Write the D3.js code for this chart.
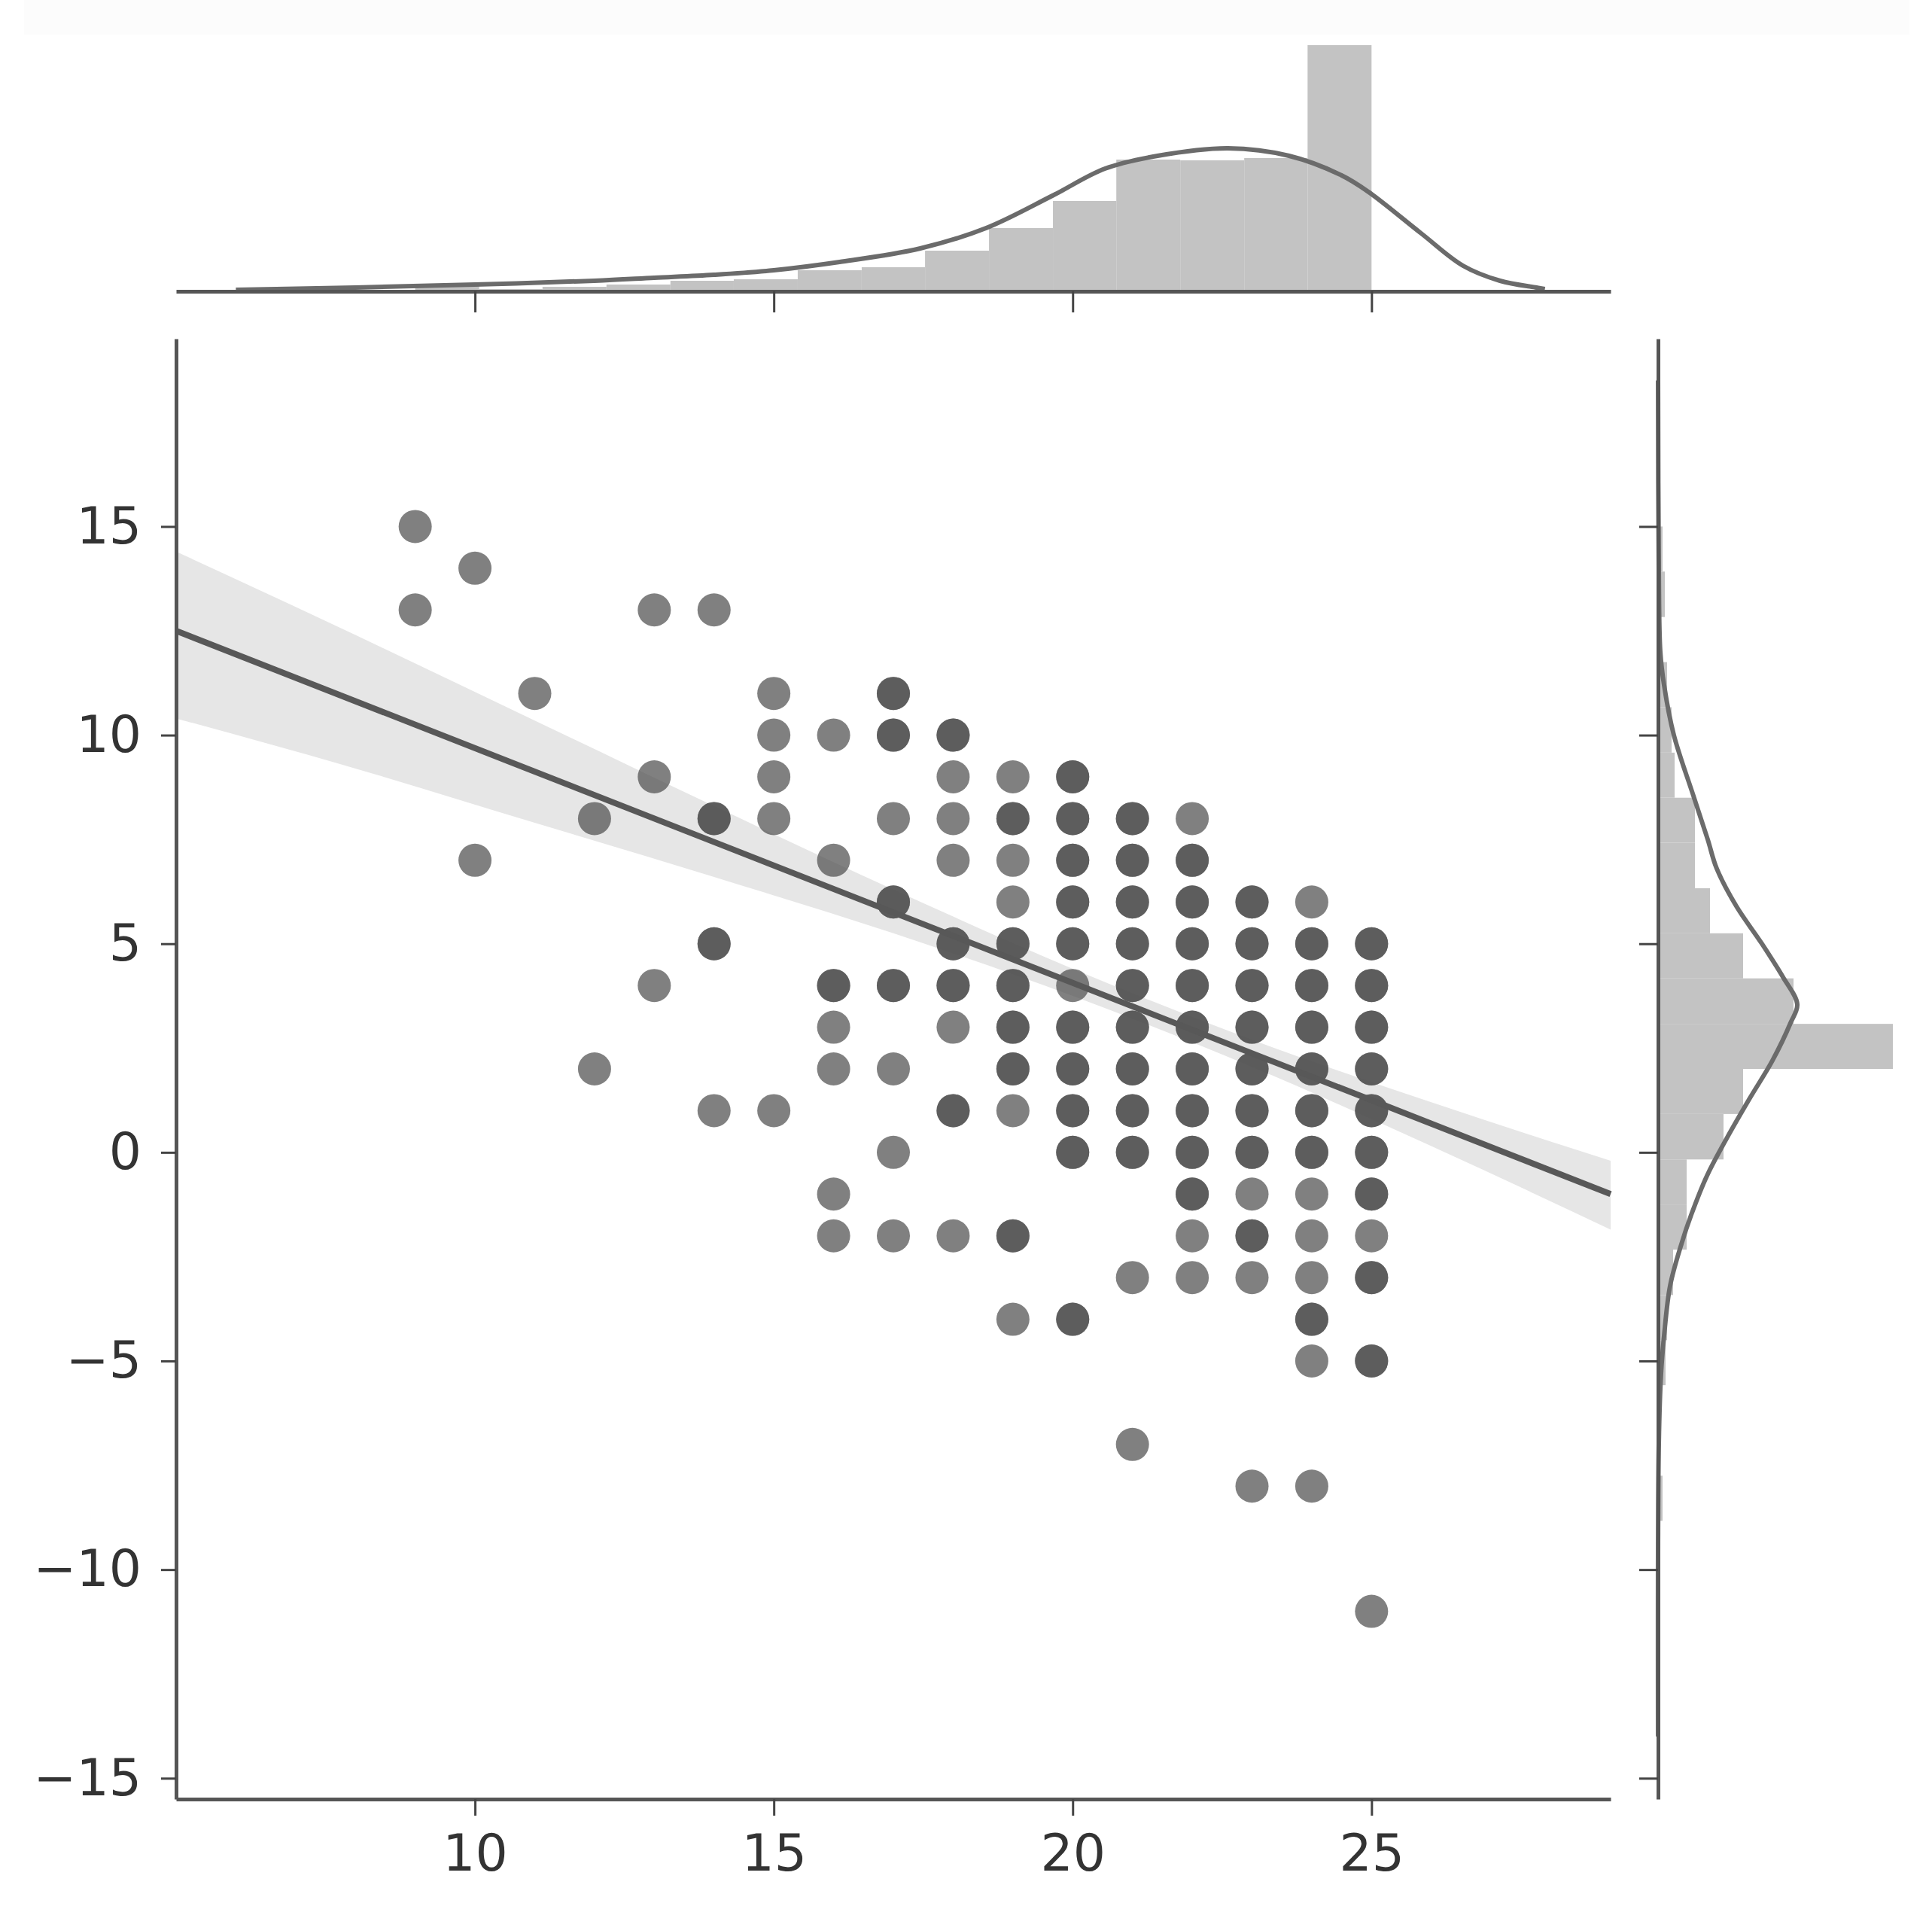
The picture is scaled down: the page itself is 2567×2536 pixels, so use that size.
<!DOCTYPE html>
<html>
<head>
<meta charset="utf-8">
<title>jointplot</title>
<script src="https://d3js.org/d3.v7.min.js"></script>
<style>
  body { margin: 0; background: #fff; }
  text { font-family: "DejaVu Sans", sans-serif; }
</style>
</head>
<body>
<script>
// scatter, one entry per x column: y values and how many points overlap there
var colX = [9, 10, 11, 12, 13, 14, 15, 16, 17, 18, 19, 20, 21, 22, 23, 24, 25];
var colY = [
    [15, 13],
    [14, 7],
    [11],
    [8, 2],
    [13, 9, 4],
    [13, 8, 5, 1],
    [11, 10, 9, 8, 1],
    [10, 7, 4, 3, 2, -1, -2],
    [11, 10, 8, 6, 4, 2, 0, -2],
    [10, 9, 8, 7, 5, 4, 3, 1, -2],
    [9, 8, 7, 6, 5, 4, 3, 2, 1, -2, -4],
    [9, 8, 7, 6, 5, 4, 3, 2, 1, 0, -4],
    [8, 7, 6, 5, 4, 3, 2, 1, 0, -3, -7],
    [8, 7, 6, 5, 4, 3, 2, 1, 0, -1, -2, -3],
    [6, 5, 4, 3, 2, 1, 0, -1, -2, -3, -8],
    [6, 5, 4, 3, 2, 1, 0, -1, -2, -3, -4, -5, -8],
    [5, 4, 3, 2, 1, 0, -1, -2, -3, -5, -11]
];
var colN = [
    [1, 1],
    [1, 1],
    [1],
    [1, 1],
    [1, 1, 1],
    [1, 2, 2, 1],
    [1, 1, 1, 1, 1],
    [1, 1, 2, 1, 1, 1, 1],
    [2, 2, 1, 2, 2, 1, 1, 1],
    [2, 1, 1, 1, 2, 2, 1, 2, 1],
    [1, 2, 1, 1, 2, 2, 2, 2, 1, 2, 1],
    [2, 2, 2, 2, 2, 1, 2, 2, 2, 2, 2],
    [2, 2, 2, 2, 2, 2, 2, 2, 2, 1, 1],
    [1, 2, 2, 2, 2, 2, 2, 2, 2, 2, 1, 1],
    [2, 2, 2, 2, 2, 2, 2, 1, 2, 1, 1],
    [1, 2, 2, 2, 2, 2, 2, 1, 1, 1, 2, 1, 1],
    [2, 2, 2, 2, 2, 2, 2, 1, 2, 2, 1]
];

// regression line and its confidence band
var fitX = [5, 29];
var fitY = [12.5, -1.0];
var bandX = [5, 8, 11, 14, 17, 20, 23, 26, 29];
var bandLo = [10.4, 9.2, 7.9, 6.6, 5.25, 3.75, 2.05, 0.15, -1.85];
var bandHi = [14.4, 12.4, 10.35, 8.3, 6.3, 4.4, 2.7, 1.2, -0.2];

// top marginal: histogram + kde of x
var xBinEdges = [9, 10.07, 11.13, 12.2, 13.27, 14.33, 15.4, 16.47, 17.53, 18.6, 19.67, 20.73, 21.8, 22.87, 23.93, 25];
var xBinDensity = [0.008, 0.003, 0.006, 0.009, 0.014, 0.016, 0.028, 0.032, 0.054, 0.084, 0.120, 0.175, 0.174, 0.177, 0.327];
var xKdeX = [6, 8, 10, 12, 13, 14, 15, 16.1, 17.45, 18.55, 19.66, 20.54, 21.42, 22.6, 23.62, 24.5, 24.95, 25.83, 26.53, 27.15, 27.76, 27.9];
var xKdeD = [0.002, 0.005, 0.009, 0.014, 0.018, 0.022, 0.028, 0.039, 0.057, 0.084, 0.127, 0.163, 0.180, 0.190, 0.180, 0.154, 0.132, 0.077, 0.034, 0.014, 0.005, 0.003];

// right marginal: histogram + kde of y
var yBinEdges = [-11, -9.92, -8.83, -7.75, -6.67, -5.58, -4.5, -3.42, -2.33, -1.25, -0.17, 0.92, 2, 3.08, 4.17, 5.25, 6.33, 7.42, 8.5, 9.58, 10.67, 11.75, 12.83, 13.92, 15];
var yBinDensity = [0.003, 0, 0.006, 0.003, 0, 0.010, 0.012, 0.020, 0.038, 0.038, 0.087, 0.113, 0.312, 0.180, 0.113, 0.069, 0.049, 0.049, 0.022, 0.018, 0.012, 0, 0.009, 0.006];
var yKdeY = [18.5, 14, 12, 11.2, 10, 8.6, 7.5, 6.8, 5.9, 5.0, 4.2, 3.55, 3.1, 2.2, 1.3, 0.36, -0.56, -1.5, -2.2, -3.2, -4.4, -5.3, -7, -14];
var yKdeD = [0, 0.001, 0.003, 0.008, 0.021, 0.046, 0.066, 0.078, 0.104, 0.138, 0.166, 0.185, 0.176, 0.152, 0.122, 0.092, 0.065, 0.044, 0.031, 0.016, 0.008, 0.004, 0.001, 0];

var mainTicksX = [10, 15, 20, 25];
var mainTicksY = [-15, -10, -5, 0, 5, 10, 15];

var width = 2567,
    height = 2536;

var svg = d3.select("body").append("svg")
    .attr("width", width)
    .attr("height", height)
    .style("background", "#fff");

svg.append("rect")
    .attr("x", 32).attr("y", 0)
    .attr("width", 2505).attr("height", 46)
    .attr("fill", "#fcfcfc");

var x = d3.scaleLinear().domain([5, 29]).range([234, 2140]);
var y = d3.scaleLinear().domain([-15.5, 19.5]).range([2390, 450]);
var topD = d3.scaleLinear().domain([0, 0.35]).range([387, 37]);
var rightD = d3.scaleLinear().domain([0, 0.33]).range([2203, 2533]);

var spineColor = "#555",
    histColor = "#c3c3c3",
    kdeColor = "#6b6b6b";

/* main joint plot */

var band = bandX.map(function (v, i) {
    return { x: v, lo: bandLo[i], hi: bandHi[i] };
});
svg.append("path")
    .datum(band)
    .attr("fill", "#e6e6e6")
    .attr("d", d3.area()
        .x(function (d) { return x(d.x); })
        .y0(function (d) { return y(d.lo); })
        .y1(function (d) { return y(d.hi); })
        .curve(d3.curveMonotoneX));

var points = [];
colX.forEach(function (cx, i) {
    colY[i].forEach(function (cy, j) {
        for (var k = 0; k < colN[i][j]; k++) points.push({ x: cx, y: cy });
    });
});

svg.append("g").selectAll("circle")
    .data(points)
    .enter().append("circle")
    .attr("cx", function (d) { return x(d.x); })
    .attr("cy", function (d) { return y(d.y); })
    .attr("r", 22)
    .attr("fill", "#4f4f4f")
    .attr("fill-opacity", 0.72);

svg.append("path")
    .datum(fitX.map(function (v, i) { return [v, fitY[i]]; }))
    .attr("fill", "none")
    .attr("stroke", "#585858")
    .attr("stroke-width", 8)
    .attr("d", d3.line()
        .x(function (d) { return x(d[0]); })
        .y(function (d) { return y(d[1]); }));

function styleAxis(g) {
    g.select(".domain")
        .attr("stroke", spineColor)
        .attr("stroke-width", 5);
    g.selectAll(".tick line")
        .attr("stroke", "#444")
        .attr("stroke-width", 3);
    g.selectAll(".tick text")
        .attr("fill", "#333")
        .style("font-size", "68px")
        .style("font-family", "'DejaVu Sans', sans-serif");
}

svg.append("g")
    .attr("transform", "translate(0,2390)")
    .call(d3.axisBottom(x).tickValues(mainTicksX).tickSize(22).tickSizeOuter(0).tickPadding(25).tickFormat(d3.format("d")))
    .call(styleAxis);

svg.append("g")
    .attr("transform", "translate(234,0)")
    .call(d3.axisLeft(y).tickValues(mainTicksY).tickSize(20).tickSizeOuter(0).tickPadding(26).tickFormat(d3.format("d")))
    .call(styleAxis);

/* top marginal */

svg.append("g").selectAll("rect")
    .data(xBinDensity)
    .enter().append("rect")
    .attr("x", function (d, i) { return x(xBinEdges[i]); })
    .attr("width", function (d, i) { return x(xBinEdges[i + 1]) - x(xBinEdges[i]); })
    .attr("y", function (d) { return topD(d); })
    .attr("height", function (d) { return topD(0) - topD(d); })
    .attr("fill", histColor);

svg.append("path")
    .datum(xKdeX.map(function (v, i) { return [v, xKdeD[i]]; }))
    .attr("fill", "none")
    .attr("stroke", kdeColor)
    .attr("stroke-width", 6)
    .attr("d", d3.line()
        .x(function (d) { return x(d[0]); })
        .y(function (d) { return topD(d[1]); })
        .curve(d3.curveCatmullRom.alpha(0.5)));

svg.append("g")
    .attr("transform", "translate(0,387)")
    .call(d3.axisBottom(x).tickValues(mainTicksX).tickSize(28).tickSizeOuter(0).tickFormat(""))
    .call(styleAxis);

/* right marginal */

svg.append("g").selectAll("rect")
    .data(yBinDensity)
    .enter().append("rect")
    .attr("x", rightD(0))
    .attr("width", function (d) { return rightD(d) - rightD(0); })
    .attr("y", function (d, i) { return y(yBinEdges[i + 1]); })
    .attr("height", function (d, i) { return y(yBinEdges[i]) - y(yBinEdges[i + 1]); })
    .attr("fill", histColor);

svg.append("path")
    .datum(yKdeY.map(function (v, i) { return [v, yKdeD[i]]; }))
    .attr("fill", "none")
    .attr("stroke", kdeColor)
    .attr("stroke-width", 6)
    .attr("d", d3.line()
        .x(function (d) { return rightD(d[1]); })
        .y(function (d) { return y(d[0]); })
        .curve(d3.curveCatmullRom.alpha(0.5)));

svg.append("g")
    .attr("transform", "translate(2203,0)")
    .call(d3.axisLeft(y).tickValues(mainTicksY).tickSize(25).tickSizeOuter(0).tickFormat(""))
    .call(styleAxis);
</script>
</body>
</html>
